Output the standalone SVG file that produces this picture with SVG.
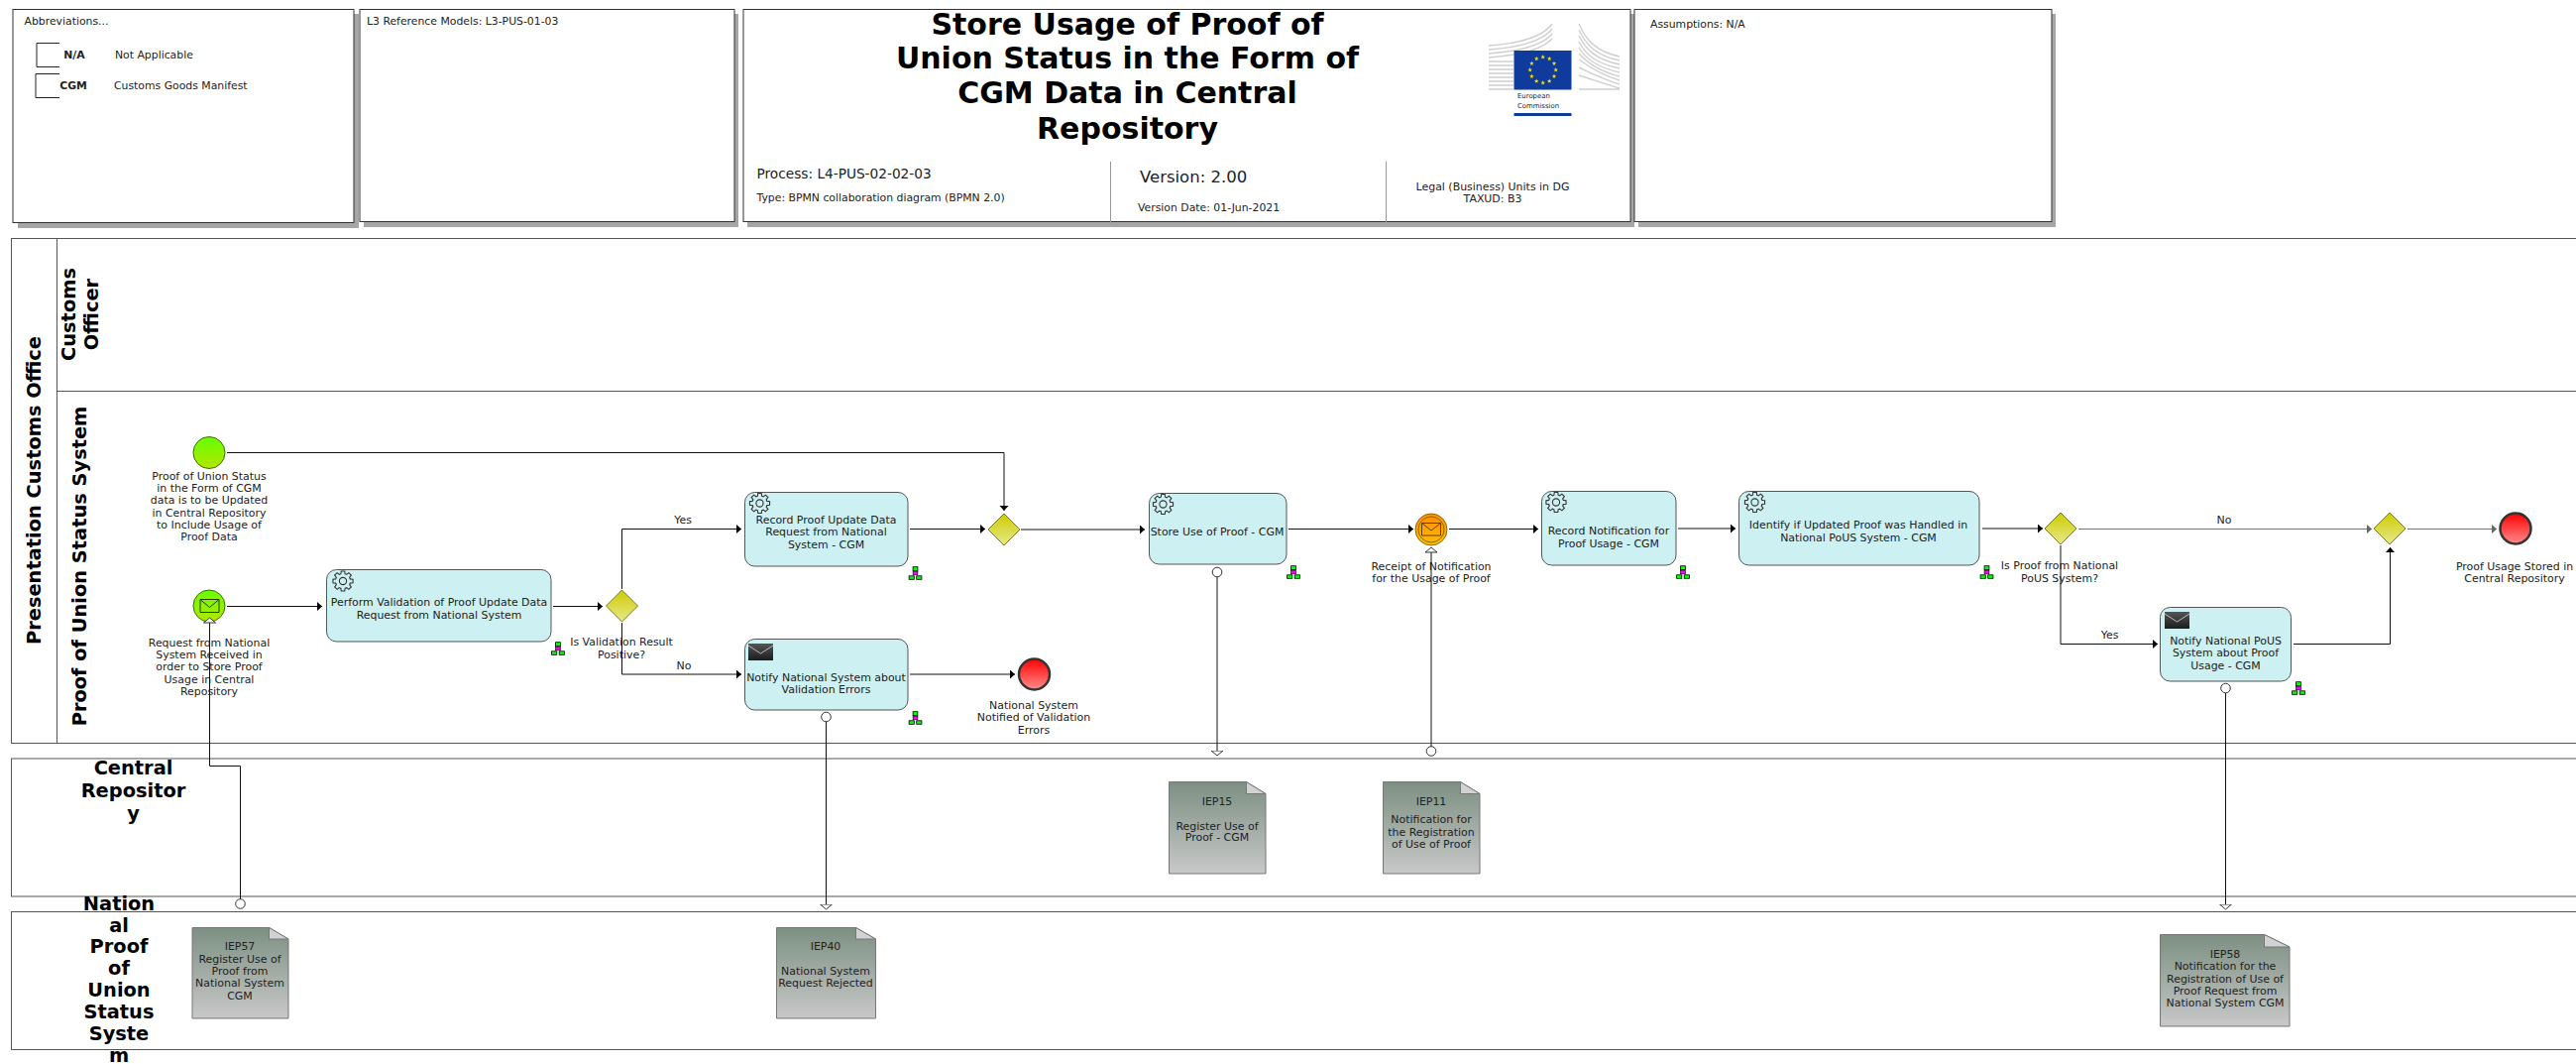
<svg xmlns="http://www.w3.org/2000/svg" xmlns:xlink="http://www.w3.org/1999/xlink" width="2599" height="1073" viewBox="0 0 2599 1073">
<style>
text{font-family:"DejaVu Sans",sans-serif;fill:#222}
.t{font-size:10.95px;text-anchor:middle}
.l{font-size:10.85px}
.lane{font-size:19.4px;font-weight:bold;text-anchor:middle;fill:#000}
.title{font-size:30px;font-weight:bold;text-anchor:middle;fill:#000}
.box{fill:#fff;stroke:#333;stroke-width:1}
.shadow{fill:#a6a6a6}
.swim{fill:none;stroke:#555;stroke-width:1}
.task{fill:#cdf0f2;stroke:#555;stroke-width:1}
.gw{fill:url(#gGw);stroke:#77771e;stroke-width:1}
.doc{fill:url(#gDoc);stroke:#777;stroke-width:1}
.fold{fill:#d2d2d2;stroke:#777;stroke-width:1}
.f{fill:none;stroke:#111;stroke-width:1;marker-end:url(#arr)}
.fg{fill:none;stroke:#777;stroke-width:1;marker-end:url(#arrg)}
.m{fill:none;stroke:#111;stroke-width:1;marker-end:url(#open);marker-start:url(#circ)}
.gear{fill:none;stroke:#333;stroke-width:1.1}
.env{fill:none;stroke:#2b3a00;stroke-width:1}
.wing{fill:none;stroke:#cfcfcf;stroke-width:1.4}
</style>
<defs>
<linearGradient id="gGw" x1="0" y1="0" x2="0" y2="1"><stop offset="0" stop-color="#cccc00"/><stop offset="1" stop-color="#e8e88c"/></linearGradient>
<linearGradient id="gDoc" x1="0" y1="0" x2="0" y2="1"><stop offset="0" stop-color="#7c9082"/><stop offset="1" stop-color="#c8c8c8"/></linearGradient>
<linearGradient id="gStart" x1="0" y1="0" x2="0" y2="1"><stop offset="0" stop-color="#66ff00"/><stop offset="1" stop-color="#b3e600"/></linearGradient>
<linearGradient id="gEnd" x1="0" y1="0" x2="0" y2="1"><stop offset="0" stop-color="#ff0000"/><stop offset="1" stop-color="#ff8c8c"/></linearGradient>
<linearGradient id="gInt" x1="0" y1="0" x2="0" y2="1"><stop offset="0" stop-color="#ff8c00"/><stop offset="1" stop-color="#ffc000"/></linearGradient>
<linearGradient id="gEnv" x1="0" y1="0" x2="0" y2="1"><stop offset="0" stop-color="#555"/><stop offset="1" stop-color="#1c1c1c"/></linearGradient>
<marker id="arr" markerUnits="userSpaceOnUse" markerWidth="7" markerHeight="10" refX="5" refY="4.5" orient="auto"><path d="M0 0L5 4.5L0 9Z" fill="#000"/></marker>
<marker id="arrg" markerUnits="userSpaceOnUse" markerWidth="7" markerHeight="10" refX="5" refY="4.5" orient="auto"><path d="M0 0L5 4.5L0 9Z" fill="#666"/></marker>
<marker id="open" markerUnits="userSpaceOnUse" markerWidth="8" markerHeight="14" refX="0.5" refY="6.5" orient="auto"><path d="M0.5 0.5L5.5 6.5L0.5 12.5Z" fill="#fff" stroke="#333"/></marker>
<marker id="circ" markerUnits="userSpaceOnUse" markerWidth="12" markerHeight="12" refX="6" refY="6" orient="auto"><circle cx="6" cy="6" r="4.8" fill="#fff" stroke="#333"/></marker>
<g id="gearI"><path class="gear" d="M7.31 -2.09L10.05 -1.77L10.05 1.77L7.31 2.09L6.65 3.68L8.36 5.85L5.85 8.36L3.68 6.65L2.09 7.31L1.77 10.05L-1.77 10.05L-2.09 7.31L-3.68 6.65L-5.85 8.36L-8.36 5.85L-6.65 3.68L-7.31 2.09L-10.05 1.77L-10.05 -1.77L-7.31 -2.09L-6.65 -3.68L-8.36 -5.85L-5.85 -8.36L-3.68 -6.65L-2.09 -7.31L-1.77 -10.05L1.77 -10.05L2.09 -7.31L3.68 -6.65L5.85 -8.36L8.36 -5.85L6.65 -3.68Z"/><circle class="gear" r="3.6"/></g>
<g id="tree"><rect x="-2.4" y="-6.3" width="4.8" height="4" fill="#0f0" stroke="#000" stroke-width=".8"/><rect x="-2.4" y="-1.8" width="4.8" height="3.6" fill="#f0f" stroke="#000" stroke-width=".6"/><rect x="-6.4" y="2.8" width="5.2" height="3.5" fill="#0f0" stroke="#000" stroke-width=".8"/><rect x="1.2" y="2.8" width="5.2" height="3.5" fill="#0f0" stroke="#000" stroke-width=".8"/></g>
<g id="sendI"><rect width="25" height="17" fill="url(#gEnv)"/><path d="M0 2L12.5 10L25 2" fill="none" stroke="#bbb" stroke-width="1"/></g>
<polygon id="star" points="0,-2.4 .6,-.8 2.3,-.8 .9,.3 1.4,2 0,1 -1.4,2 -.9,.3 -2.3,-.8 -.6,-.8" fill="#ffe600"/>
</defs>
<rect width="2599" height="1073" fill="#fff"/>

<g id="header-abbreviations">
<rect class="shadow" x="18" y="14" width="344" height="216"/>
<rect class="box" x="13" y="9.500" width="344" height="215"/>
<text class="l" x="24.500" y="25">Abbreviations...</text>
<path d="M60 43.500H37V67.500H60M60 74.500H36V98.500H60" fill="none" stroke="#222" stroke-width="1"/>
<text class="l" x="75" y="59" text-anchor="middle" font-weight="bold">N/A</text>
<text class="l" x="116" y="59">Not Applicable</text>
<text class="l" x="74" y="90" text-anchor="middle" font-weight="bold">CGM</text>
<text class="l" x="115" y="90">Customs Goods Manifest</text>
</g>
<g id="header-reference">
<rect class="shadow" x="367" y="14" width="378" height="215"/>
<rect class="box" x="363" y="9.500" width="378" height="214"/>
<text class="l" x="370" y="25">L3 Reference Models: L3-PUS-01-03</text>
</g>
<g id="header-title">
<rect class="shadow" x="754" y="14" width="895" height="215"/>
<rect class="box" x="750" y="9.500" width="895" height="214"/>
<text class="title" x="1137.500" y="35">Store Usage of Proof of</text>
<text class="title" x="1137.500" y="69">Union Status in the Form of</text>
<text class="title" x="1137.500" y="104">CGM Data in Central</text>
<text class="title" x="1137.500" y="140">Repository</text>
<text x="763.500" y="180" font-size="13.700">Process: L4-PUS-02-02-03</text>
<text class="l" x="763.500" y="203">Type: BPMN collaboration diagram (BPMN 2.0)</text>
<text x="1150" y="184" font-size="16.500">Version: 2.00</text>
<text class="l" x="1148" y="213">Version Date: 01-Jun-2021</text>
<text class="t" x="1506" y="192">Legal (Business) Units in DG</text>
<text class="t" x="1506" y="204">TAXUD: B3</text>
<path d="M1120.500 163V225M1398.500 163V225" stroke="#999" fill="none"/>
<g id="logo">
<path class="wing" d="M1502 46C1530 44 1556 38 1566 24M1502 50C1530 48 1556 42 1566 29M1502 54C1530 52 1556 46 1566 34M1502 58C1530 56 1556 50 1566 39M1502 62H1527M1502 66H1527M1502 70H1527M1502 74H1527M1502 78H1527M1502 82H1527M1502 86H1527M1502 90H1527"/>
<path class="wing" d="M1593 24C1600 40 1610 52 1634 57M1593 30C1600 45 1610 56 1634 61M1593 36C1600 50 1610 60 1634 65M1593 42C1600 55 1610 64 1634 69M1593 48C1600 60 1612 68 1634 73M1593 54C1602 64 1614 72 1634 77M1593 60C1604 68 1616 76 1634 81M1593 68C1606 74 1618 80 1634 85M1593 76C1606 80 1620 85 1634 89M1593 90H1634"/>
<rect x="1527.500" y="51" width="58" height="39.500" fill="#0f3c9c"/>
<use href="#star" x="1556.700" y="57.500"/><use href="#star" x="1563.200" y="59.200"/><use href="#star" x="1568" y="64"/><use href="#star" x="1569.700" y="70.500"/><use href="#star" x="1568" y="77"/><use href="#star" x="1563.200" y="81.800"/><use href="#star" x="1556.700" y="83.500"/><use href="#star" x="1550.200" y="81.800"/><use href="#star" x="1545.400" y="77"/><use href="#star" x="1543.700" y="70.500"/><use href="#star" x="1545.400" y="64"/><use href="#star" x="1550.200" y="59.200"/>
<text x="1531" y="99" font-size="6.900" fill="#555">European</text>
<text x="1531" y="109" font-size="6.900" fill="#555">Commission</text>
<rect x="1527.500" y="114" width="58" height="3" fill="#0f3c9c"/>
</g>
</g>
<g id="header-assumptions">
<rect class="shadow" x="1653" y="14" width="421" height="215"/>
<rect class="box" x="1649" y="9.500" width="421" height="214"/>
<text class="l" x="1665" y="28">Assumptions: N/A</text>
</g>

<g id="pool-presentation">
<rect class="swim" x="11.500" y="240.500" width="2588" height="509"/>
<path class="swim" d="M57.500 240.500V749.500M57.500 394.500H2599"/>
<text class="lane" transform="translate(41 494.500) rotate(-90)">Presentation Customs Office</text>
</g>
<g id="lane-customs-officer">
<text class="lane" transform="translate(76 317) rotate(-90)">Customs</text>
<text class="lane" transform="translate(98.500 317) rotate(-90)">Officer</text>
</g>
<g id="lane-pous">
<text class="lane" transform="translate(87 571) rotate(-90)">Proof of Union Status System</text>
</g>
<g id="pool-central">
<rect class="swim" x="11.500" y="765" width="2588" height="139"/>
<text class="lane" x="134.500" y="780.500">Central</text>
<text class="lane" x="134.500" y="803.500">Repositor</text>
<text class="lane" x="134.500" y="826.500">y</text>
</g>
<g id="pool-national">
<rect class="swim" x="11.500" y="919.500" width="2588" height="139"/>
<text class="lane" x="120" y="917.500">Nation</text>
<text class="lane" x="120" y="939.500">al</text>
<text class="lane" x="120" y="961">Proof</text>
<text class="lane" x="120" y="983">of</text>
<text class="lane" x="120" y="1005">Union</text>
<text class="lane" x="120" y="1027">Status</text>
<text class="lane" x="120" y="1049">Syste</text>
<text class="lane" x="120" y="1071">m</text>
</g>

<g id="start-1">
<circle cx="211" cy="456.500" r="16" fill="url(#gStart)" stroke="#3f6a00"/>
<text class="t"><tspan x="211" y="484">Proof of Union Status</tspan><tspan x="211" y="496">in the Form of CGM</tspan><tspan x="211" y="508">data is to be Updated</tspan><tspan x="211" y="521">in Central Repository</tspan><tspan x="211" y="533">to Include Usage of</tspan><tspan x="211" y="545">Proof Data</tspan></text>
</g>
<g id="start-2">
<circle cx="211" cy="611" r="16" fill="url(#gStart)" stroke="#3f6a00"/>
<path class="env" d="M202 604.500H221V617.500H202ZM202 604.500L211.500 612.500L221 604.500"/>
<text class="t"><tspan x="211" y="652">Request from National</tspan><tspan x="211" y="664">System Received in</tspan><tspan x="211" y="676">order to Store Proof</tspan><tspan x="211" y="689">Usage in Central</tspan><tspan x="211" y="701">Repository</tspan></text>
</g>
<g id="task-validation">
<rect class="task" x="329.500" y="574.500" width="226.500" height="72.500" rx="10"/>
<use href="#gearI" x="346" y="586"/>
<text class="t"><tspan x="443" y="611">Perform Validation of Proof Update Data</tspan><tspan x="443" y="624">Request from National System</tspan></text>
<use href="#tree" x="563" y="654"/>
</g>
<g id="gateway-1">
<path class="gw" d="M627.500 595L643.500 611L627.500 627L611.500 611Z"/>
<text class="t"><tspan x="627" y="651">Is Validation Result</tspan><tspan x="627" y="664">Positive?</tspan></text>
</g>
<g id="task-record">
<rect class="task" x="751.500" y="496.500" width="164.500" height="74.500" rx="10"/>
<use href="#gearI" x="766.500" y="507.500"/>
<text class="t"><tspan x="833.500" y="528">Record Proof Update Data</tspan><tspan x="833.500" y="540">Request from National</tspan><tspan x="833.500" y="553">System - CGM</tspan></text>
<use href="#tree" x="923.500" y="578"/>
</g>
<g id="task-notify">
<rect class="task" x="751.500" y="644.500" width="164.500" height="71.500" rx="10"/>
<use href="#sendI" x="755" y="649"/>
<text class="t"><tspan x="833.500" y="687">Notify National System about</tspan><tspan x="833.500" y="699">Validation Errors</tspan></text>
<use href="#tree" x="923.500" y="724"/>
</g>
<g id="end-1">
<circle cx="1043.500" cy="680" r="15.500" fill="url(#gEnd)" stroke="#333" stroke-width="2.500"/>
<text class="t"><tspan x="1043" y="715">National System</tspan><tspan x="1043" y="727">Notified of Validation</tspan><tspan x="1043" y="740">Errors</tspan></text>
</g>
<g id="gateway-2">
<path class="gw" d="M1013 518L1029 534L1013 550L997 534Z"/>
</g>
<g id="task-store">
<rect class="task" x="1159.500" y="497.500" width="138.500" height="71.500" rx="10"/>
<use href="#gearI" x="1173.500" y="508.500"/>
<text class="t" x="1228" y="540">Store Use of Proof - CGM</text>
<use href="#tree" x="1305" y="577"/>
</g>
<g id="intermediate-1">
<circle cx="1444" cy="534" r="16" fill="url(#gInt)" stroke="#8a6a00"/>
<circle cx="1444" cy="534" r="13" fill="none" stroke="#8a6a00"/>
<path d="M1434.500 527.500H1453.500V540H1434.500ZM1434.500 527.500L1444 535L1453.500 527.500" fill="none" stroke="#5a4000"/>
<text class="t"><tspan x="1444" y="575">Receipt of Notification</tspan><tspan x="1444" y="587">for the Usage of Proof</tspan></text>
</g>
<g id="task-record-notification">
<rect class="task" x="1555.500" y="495.500" width="135.500" height="74.500" rx="10"/>
<use href="#gearI" x="1570" y="506.500"/>
<text class="t"><tspan x="1623" y="539">Record Notification for</tspan><tspan x="1623" y="552">Proof Usage - CGM</tspan></text>
<use href="#tree" x="1698" y="577"/>
</g>
<g id="task-identify">
<rect class="task" x="1754.500" y="495.500" width="242.500" height="74.500" rx="10"/>
<use href="#gearI" x="1770.500" y="506.500"/>
<text class="t"><tspan x="1875" y="533">Identify if Updated Proof was Handled in</tspan><tspan x="1875" y="546">National PoUS System - CGM</tspan></text>
<use href="#tree" x="2004.500" y="577"/>
</g>
<g id="gateway-3">
<path class="gw" d="M2079 517L2095 533L2079 549L2063 533Z"/>
<text class="t"><tspan x="2078" y="574">Is Proof from National</tspan><tspan x="2078" y="587">PoUS System?</tspan></text>
</g>
<g id="task-notify-pous">
<rect class="task" x="2179.500" y="612.500" width="132" height="74.500" rx="10"/>
<use href="#sendI" x="2184" y="617"/>
<text class="t"><tspan x="2245.500" y="650">Notify National PoUS</tspan><tspan x="2245.500" y="662">System about Proof</tspan><tspan x="2245.500" y="675">Usage - CGM</tspan></text>
<use href="#tree" x="2319" y="694"/>
</g>
<g id="gateway-4">
<path class="gw" d="M2411 517L2427 533L2411 549L2395 533Z"/>
</g>
<g id="end-2">
<circle cx="2538" cy="533" r="15.500" fill="url(#gEnd)" stroke="#333" stroke-width="2.500"/>
<text class="t"><tspan x="2537" y="575">Proof Usage Stored in</tspan><tspan x="2537" y="587">Central Repository</tspan></text>
</g>

<g id="iep57">
<path class="doc" d="M194 935.500H271.500L291 947V1027H194Z"/><path class="fold" d="M271.500 935.500V947H291Z"/>
<text class="t"><tspan x="242" y="958">IEP57</tspan><tspan x="242" y="971">Register Use of</tspan><tspan x="242" y="983">Proof from</tspan><tspan x="242" y="995">National System</tspan><tspan x="242" y="1008">CGM</tspan></text>
</g>
<g id="iep40">
<path class="doc" d="M783.500 935.500H863.500L883.500 947V1027H783.500Z"/><path class="fold" d="M863.500 935.500V947H883.500Z"/>
<text class="t"><tspan x="833" y="958">IEP40</tspan><tspan x="833" y="983">National System</tspan><tspan x="833" y="995">Request Rejected</tspan></text>
</g>
<g id="iep15">
<path class="doc" d="M1179.500 788.500H1257.500L1277 800.500V881H1179.500Z"/><path class="fold" d="M1257.500 788.500V800.500H1277Z"/>
<text class="t"><tspan x="1228" y="812">IEP15</tspan><tspan x="1228" y="837">Register Use of</tspan><tspan x="1228" y="848">Proof - CGM</tspan></text>
</g>
<g id="iep11">
<path class="doc" d="M1395.500 788.500H1473.500L1493 800.500V881H1395.500Z"/><path class="fold" d="M1473.500 788.500V800.500H1493Z"/>
<text class="t"><tspan x="1444" y="812">IEP11</tspan><tspan x="1444" y="830">Notification for</tspan><tspan x="1444" y="843">the Registration</tspan><tspan x="1444" y="855">of Use of Proof</tspan></text>
</g>
<g id="iep58">
<path class="doc" d="M2179.500 942.500H2284.500L2310 955V1035H2179.500Z"/><path class="fold" d="M2284.500 942.500V955H2310Z"/>
<text class="t"><tspan x="2245" y="966">IEP58</tspan><tspan x="2245" y="978">Notification for the</tspan><tspan x="2245" y="991">Registration of Use of</tspan><tspan x="2245" y="1003">Proof Request from</tspan><tspan x="2245" y="1015">National System CGM</tspan></text>
</g>

<g id="connectors">
<path class="f" d="M229 456.500H1013V515"/>
<path class="f" d="M229 611.500H325"/>
<path class="f" d="M558 611.500H608"/>
<path class="f" d="M627.500 594V533.500H748"/>
<path class="f" d="M627.500 628V680H748"/>
<path class="f" d="M918 533.500H994"/>
<path class="f" d="M1030 534H1155"/>
<path class="f" d="M918 680H1024"/>
<path class="f" d="M1300 533.500H1426"/>
<path class="f" d="M1462 533.500H1552"/>
<path class="f" d="M1693 533H1751"/>
<path class="f" d="M2000 533H2061"/>
<path class="fg" d="M2097 533.500H2393"/>
<path class="f" d="M2079 550V649.500H2177"/>
<path class="f" d="M2314 649.500H2411.500V552"/>
<path class="fg" d="M2429 533.500H2519"/>
<path class="m" d="M242.500 911.500V772.500H211.500V628"/>
<path class="m" d="M833.500 723V912"/>
<path class="m" d="M1228 577V757"/>
<path class="m" d="M1444 757.500V557"/>
<path class="m" d="M2245.500 694V912"/>
</g>
<g id="flow-labels">
<text class="t" x="689" y="528">Yes</text>
<text class="t" x="690" y="675">No</text>
<text class="t" x="2244" y="528">No</text>
<text class="t" x="2128.500" y="644">Yes</text>
</g>
</svg>
